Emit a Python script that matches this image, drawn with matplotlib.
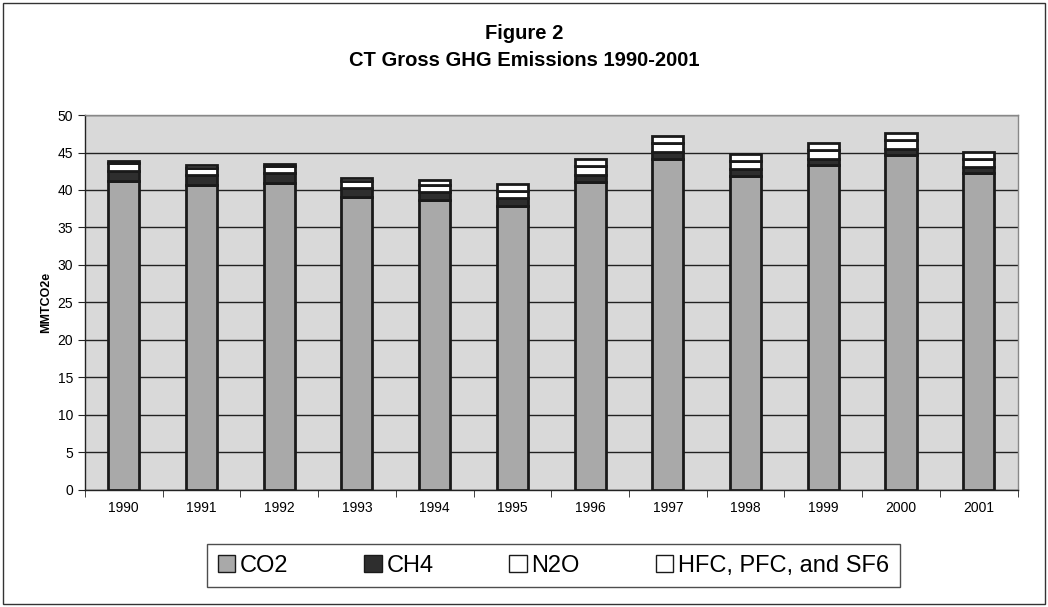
#!/usr/bin/env python
# -*- coding: utf-8 -*-
import numpy as np
import matplotlib
matplotlib.use('Agg')
import matplotlib.pyplot as plt
from matplotlib.patches import Rectangle

plt.rcParams['font.family'] = ['Liberation Sans', 'DejaVu Sans']

YEARS = ['1990', '1991', '1992', '1993', '1994', '1995',
         '1996', '1997', '1998', '1999', '2000', '2001']
CO2 = [41.2, 40.6, 40.9, 39.0, 38.6, 37.8, 41.0, 44.1, 41.9, 43.3, 44.7, 42.3]
CH4 = [1.4, 1.4, 1.3, 1.2, 1.1, 1.1, 1.0, 1.0, 0.9, 0.9, 0.8, 0.8]
N2O = [1.0, 1.0, 1.0, 1.0, 1.0, 1.0, 1.2, 1.2, 1.1, 1.1, 1.2, 1.1]
HFC = [0.3, 0.3, 0.3, 0.4, 0.6, 0.9, 0.9, 0.9, 0.9, 1.0, 0.9, 0.9]

SERIES = [('CO2', CO2, '#a9a9a9'),
          ('CH4', CH4, '#2e2e2e'),
          ('N2O', N2O, '#ffffff'),
          ('HFC, PFC, and SF6', HFC, '#ffffff')]

fig = plt.figure(figsize=(10.48, 6.07), dpi=100)
fig.patches.append(Rectangle((0.003, 0.005), 0.994, 0.99, transform=fig.transFigure,
                             fill=False, edgecolor='#333333', linewidth=1.0))

ax = fig.add_axes([0.081, 0.193, 0.890, 0.6175])
ax.set_facecolor('#d9d9d9')

pos = np.arange(len(YEARS))
bottom = np.zeros(len(YEARS))
for name, vals, col in SERIES:
    vals = np.asarray(vals)
    ax.bar(pos, vals, width=0.4, bottom=bottom, color=col, edgecolor='#1a1a1a',
           linewidth=2.0, label=name, zorder=3)
    bottom += vals

ax.set_xlim(-0.5, len(YEARS) - 0.5)
ax.set_ylim(0, 50)
ax.set_yticks(np.arange(0, 51, 5))
ax.yaxis.grid(True, color='#222222', linewidth=1.0, zorder=1)
ax.set_axisbelow(True)

ax.set_xticks(pos)
ax.set_xticklabels(YEARS, fontsize=10)
ax.tick_params(axis='x', length=0, pad=8)
ax.set_xticks(np.arange(-0.5, len(YEARS), 1), minor=True)
ax.tick_params(axis='x', which='minor', length=5, direction='out', color='#222222')
ax.tick_params(axis='y', labelsize=10, length=5, color='#222222')

for side in ['top', 'right']:
    ax.spines[side].set_color('#888888')
    ax.spines[side].set_linewidth(1.0)
for side in ['left', 'bottom']:
    ax.spines[side].set_color('#222222')
    ax.spines[side].set_linewidth(1.0)

ax.set_ylabel('MMTCO2e', fontsize=9, fontweight='bold', labelpad=4)

fig.text(0.5, 0.945, 'Figure 2', ha='center', va='center', fontsize=14.5, fontweight='bold')
fig.text(0.5, 0.900, 'CT Gross GHG Emissions 1990-2001', ha='center', va='center',
         fontsize=14.5, fontweight='bold')

leg = fig.legend(loc='center', bbox_to_anchor=(0.528, 0.068), ncol=4, fontsize=17,
                 frameon=True, fancybox=False, edgecolor='#222222',
                 handlelength=0.75, handleheight=0.75, handletextpad=0.2,
                 columnspacing=3.2, borderpad=0.45)
leg.get_frame().set_linewidth(1.0)
for h in leg.legend_handles:
    h.set_linewidth(1.0)

fig.savefig('out.png', dpi=100)
